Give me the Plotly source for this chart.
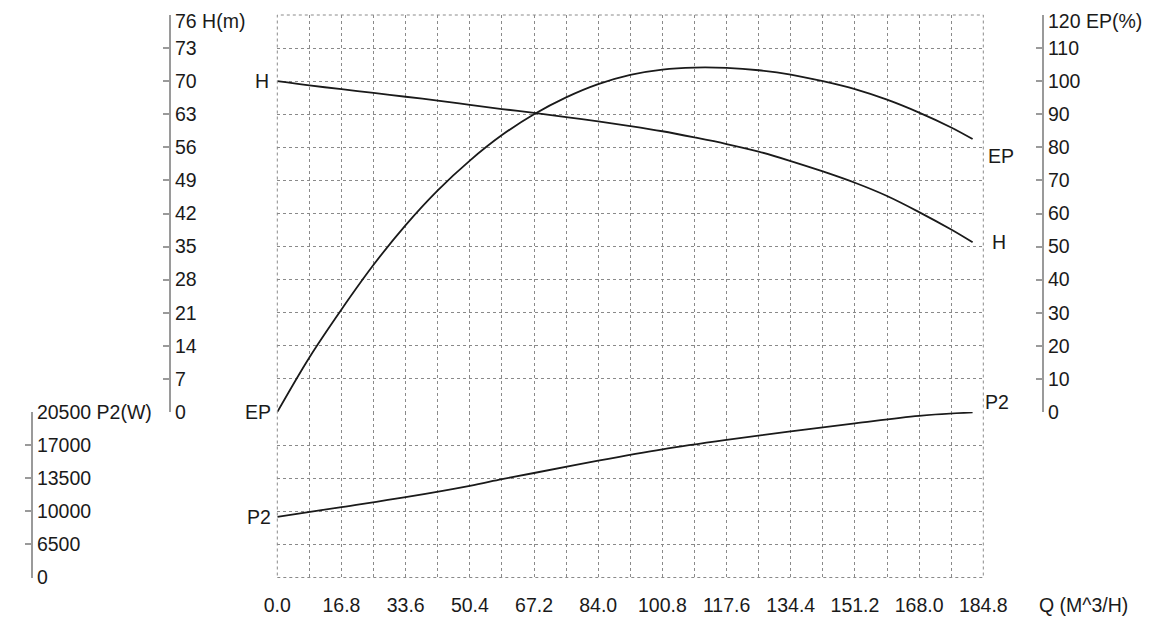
import plotly.graph_objects as go

# flow points (M^3/H)
flow = [0.0, 8.4, 16.8, 25.2, 33.6, 42.0, 50.4, 58.8, 67.2, 75.6, 84.0, 92.4,
        100.8, 109.2, 117.6, 126.0, 134.4, 142.8, 151.2, 159.6, 168.0, 176.4, 182.0]
head = [70.0, 69.1, 68.3, 67.5, 66.7, 65.9, 65.0, 64.1, 63.3, 62.4, 61.5, 60.5,
        59.4, 58.1, 56.7, 55.1, 53.1, 50.9, 48.5, 45.7, 42.3, 38.6, 35.9]
eff = [0.0, 16.5, 31.0, 44.5, 56.5, 67.0, 76.0, 83.7, 90.0, 95.1, 99.1, 101.9,
       103.5, 104.1, 104.0, 103.3, 102.0, 100.0, 97.6, 94.4, 90.5, 86.0, 82.5]

flow_p2 = [0.0, 16.8, 33.6, 50.4, 58.8, 67.2, 84.0, 100.8, 117.6, 134.4, 151.2, 168.0, 182.0]
power = [9400, 10450, 11500, 12700, 13400, 14050, 15350, 16550, 17550, 18450, 19300, 20100, 20450]

x_ticks = [0.0, 16.8, 33.6, 50.4, 67.2, 84.0, 100.8, 117.6, 134.4, 151.2, 168.0, 184.8]
x_minor = [8.4, 25.2, 42.0, 58.8, 75.6, 92.4, 109.2, 126.0, 142.8, 159.6, 176.4]
h_ticks = [0, 7, 14, 21, 28, 35, 42, 49, 56, 63, 70, 77, 84]
h_labels = ["0", "7", "14", "21", "28", "35", "42", "49", "56", "63", "70", "73", ""]
h_top_label = "76 H(m)"
ep_ticks = [0, 10, 20, 30, 40, 50, 60, 70, 80, 90, 100, 110, 120]
ep_labels = [str(v) for v in ep_ticks[:-1]] + [""]
ep_top_label = "120 EP(%)"
p2_ticks = [3000, 6500, 10000, 13500, 17000, 20500]
p2_labels = ["0", "6500", "10000", "13500", "17000", "20500 P2(W)"]

# page body has an 8px margin, so the figure is drawn a bit smaller and offset
OFF = 8
W, H_ = 1173 - 2 * OFF, 635 - 2 * OFF
FONT = "Liberation Sans, Arial, sans-serif"
TXT = "#1a1a1a"
GRID = "#8a8a8a"
AXIS = "#9a9a9a"


def px(x):
    return (x - OFF) / W


def py(y):
    return 1 - (y - OFF) / H_


x0, x1 = px(277.3), px(983.3)
top, mid, bot = py(15), py(412), py(577.5)

fig = go.Figure()
line = dict(color="#1a1a1a", width=1.8, shape="spline", smoothing=1.0)
fig.add_trace(go.Scatter(x=flow, y=head, mode="lines", line=line, yaxis="y", showlegend=False))
fig.add_trace(go.Scatter(x=flow, y=eff, mode="lines", line=line, yaxis="y2", showlegend=False))
fig.add_trace(go.Scatter(x=flow_p2, y=power, mode="lines", line=line, yaxis="y3", showlegend=False))

tickfont = dict(family=FONT, size=19.5, color=TXT)
side_axis = dict(
    side="right",
    anchor="free",
    ticks="inside",
    ticklen=6,
    tickcolor=AXIS,
    tickwidth=1.5,
    ticklabelposition="outside",
    ticklabeloverflow="allow",
    tickfont=tickfont,
    showline=True,
    linecolor=AXIS,
    linewidth=2,
    zeroline=False,
    automargin=False,
)

fig.update_layout(
    width=W,
    height=H_,
    margin=dict(l=0, r=0, t=0, b=0, autoexpand=False),
    paper_bgcolor="white",
    plot_bgcolor="white",
    font=dict(family=FONT, size=19.5, color=TXT),
    xaxis=dict(
        domain=[x0, x1],
        range=[0, 184.8],
        anchor="y3",
        tickvals=x_ticks,
        ticktext=[f"{v:.1f}" for v in x_ticks],
        ticks="",
        ticklabelstandoff=14,
        ticklabeloverflow="allow",
        tickfont=tickfont,
        showgrid=True,
        gridcolor=GRID,
        griddash="dot",
        gridwidth=1,
        zeroline=False,
        showline=False,
        automargin=False,
        minor=dict(tickvals=x_minor, showgrid=True, gridcolor=GRID, griddash="dot", gridwidth=1),
    ),
    yaxis=dict(
        domain=[mid, top],
        range=[0, 84],
        position=px(170),
        tickvals=h_ticks,
        ticktext=h_labels,
        showgrid=True,
        gridcolor=GRID,
        griddash="dot",
        **side_axis,
    ),
    yaxis2=dict(
        domain=[mid, top],
        range=[0, 120],
        overlaying="y",
        position=px(1043),
        tickvals=ep_ticks,
        ticktext=ep_labels,
        showgrid=False,
        **side_axis,
    ),
    yaxis3=dict(
        domain=[bot, mid],
        range=[3000, 20500],
        position=px(32),
        tickvals=p2_ticks,
        ticktext=p2_labels,
        showgrid=True,
        gridcolor=GRID,
        griddash="dot",
        **side_axis,
    ),
)

# dotted border around the grid
fig.add_shape(type="rect", xref="paper", yref="paper", x0=x0, x1=x1, y0=bot, y1=top,
              line=dict(color=GRID, width=1, dash="dot"))

lab = dict(showarrow=False, font=dict(family=FONT, size=19.5, color=TXT))

# top axis labels, kept just inside the page edge
fig.add_annotation(x=px(170), y=1, xref="paper", yref="paper", text=h_top_label,
                   xanchor="left", yanchor="top", xshift=3, **lab)
fig.add_annotation(x=px(1043), y=1, xref="paper", yref="paper", text=ep_top_label,
                   xanchor="left", yanchor="top", xshift=3, **lab)

fig.add_annotation(x=0, y=head[0], xref="x", yref="y", text="H", xanchor="right", xshift=-6, **lab)
fig.add_annotation(x=0, y=eff[0], xref="x", yref="y2", text="EP", xanchor="right", xshift=-4, **lab)
fig.add_annotation(x=0, y=power[0], xref="x", yref="y3", text="P2", xanchor="right", xshift=-4, **lab)
fig.add_annotation(x=flow[-1], y=eff[-1], xref="x", yref="y2", text="EP", xanchor="left",
                   xshift=13, yshift=-17, **lab)
fig.add_annotation(x=flow[-1], y=head[-1], xref="x", yref="y", text="H", xanchor="left",
                   xshift=17, yshift=0, **lab)
fig.add_annotation(x=flow_p2[-1], y=power[-1], xref="x", yref="y3", text="P2", xanchor="left",
                   xshift=10, yshift=10, **lab)
fig.add_annotation(x=px(1037), y=py(605), xref="paper", yref="paper", text="Q (M^3/H)",
                   xanchor="left", yanchor="middle", **lab)

fig.write_html("out.html")
